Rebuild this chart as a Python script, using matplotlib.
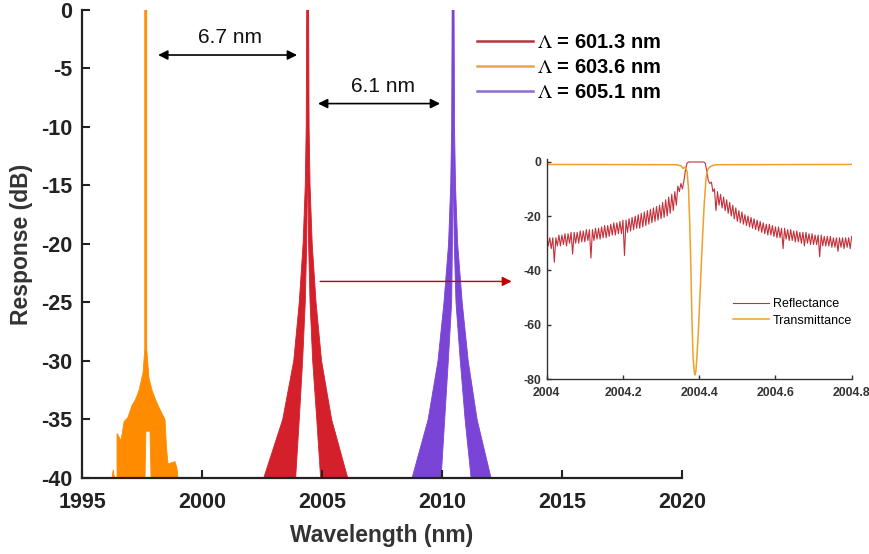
import numpy as np
import matplotlib
matplotlib.use("Agg")
import matplotlib.pyplot as plt
from matplotlib.lines import Line2D

plt.rcParams['font.family'] = ['Liberation Sans', 'DejaVu Sans']
plt.rcParams['axes.unicode_minus'] = False
plt.rcParams['mathtext.fontset'] = 'stix'

# ---------------- data ----------------
x_ticks = [1995, 2000, 2005, 2010, 2015, 2020]
y_ticks = [0, -5, -10, -15, -20, -25, -30, -35, -40]

legend_labels = [r'$\Lambda$ = 601.3 nm', r'$\Lambda$ = 603.6 nm', r'$\Lambda$ = 605.1 nm']

# red peak (Lambda = 601.3 nm): band edges as offsets (nm) from centre at given levels (dB)
red_center = 2004.4
red_db = [0, -10, -15, -20, -25, -30, -35, -40]
red_outer_l = [-0.04, -0.06, -0.10, -0.19, -0.35, -0.58, -1.04, -1.83]
red_inner_l = [0.0, 0.0, -0.01, -0.04, -0.10, -0.21, -0.35, -0.50]
red_inner_r = [0.0, 0.0, 0.01, 0.04, 0.10, 0.21, 0.38, 0.54]
red_outer_r = [0.04, 0.06, 0.10, 0.19, 0.35, 0.58, 1.00, 1.67]

# purple peak (Lambda = 605.1 nm)
purple_center = 2010.46
purple_db = [0, -10, -15, -20, -25, -30, -35, -40]
purple_outer_l = [-0.04, -0.06, -0.10, -0.19, -0.38, -0.63, -1.04, -1.71]
purple_inner_l = [0.0, 0.0, -0.01, -0.03, -0.06, -0.20, -0.35, -0.50]
purple_inner_r = [0.0, 0.0, 0.01, 0.05, 0.12, 0.30, 0.50, 0.75]
purple_outer_r = [0.04, 0.06, 0.10, 0.19, 0.38, 0.63, 1.00, 1.58]

# orange peak (Lambda = 603.6 nm): outline of the filled spectrum
orange_wl = [1997.613, 1997.613, 1997.542, 1997.375, 1997.229, 1997.083, 1996.917, 1996.75,
             1996.625, 1996.458, 1996.458, 1997.625, 1997.66, 1997.83, 1997.875, 1999.0,
             1998.958, 1998.875, 1998.583, 1998.521, 1998.458, 1998.333, 1998.167, 1998.042,
             1997.917, 1997.792, 1997.696, 1997.696]
orange_db = [0, -29, -31, -32.5, -33.3, -33.8, -34.8, -35.2,
             -36.8, -36.2, -40, -40, -36, -36, -40, -40,
             -39.2, -38.6, -38.8, -37.5, -35, -34.5, -33.8, -33.2,
             -32.5, -31.5, -29, 0]
orange_blip_wl = [1996.25, 1996.30, 1996.35]
orange_blip_db = [-40, -39.3, -40]

# inset: reflectance sampled every 0.004 nm from 2004.0 to 2004.8
refl_db = [
    -27, -31, -28, -32, -28, -37, -28, -31, -27, -31,
    -27, -30.5, -26.5, -31, -26.5, -30, -26, -34, -26, -30,
    -26, -30, -25.5, -29.5, -25.5, -29.5, -25, -29, -25, -35.5,
    -25, -29, -24.5, -28.5, -24.5, -28.5, -24, -28, -23.5, -28,
    -23.5, -27.5, -23, -27, -22.5, -27, -22.5, -26.5, -22, -26.5,
    -21.5, -34.5, -21.5, -26, -21, -25.5, -20.5, -25, -20, -24.5,
    -19.5, -24.5, -19, -24, -18.5, -23.5, -18, -23, -17.5, -22.5,
    -17, -22, -16.5, -21.5, -16, -21, -15, -20.5, -14, -20,
    -13, -19, -12, -18, -11, -16, -9, -11, -8, -10,
    -7, -3, -0.5, -0.1, -0.1, -0.1, -0.1, -0.1, -0.1, -0.1,
    -0.1, -0.1, -0.1, -0.1, -0.6, -3.5, -7, -8, -7.5, -11,
    -10, -18, -11, -16, -12, -17, -13, -18, -14, -19,
    -15, -20, -16, -21, -17, -22, -18, -22.5, -18.5, -23,
    -19.5, -23.5, -20, -24, -20.5, -24.5, -21, -25, -21.5, -25.5,
    -22, -26, -22.5, -26.5, -23, -27, -23, -27, -23.5, -27.5,
    -24, -28, -24, -28, -24.5, -32, -24.5, -28.5, -25, -29,
    -25, -29, -25.5, -29.5, -25.5, -29.5, -26, -30, -26, -31,
    -26, -30, -26.5, -30.5, -26.5, -30.5, -27, -30.5, -27, -35,
    -27, -31, -27.5, -31, -27.5, -31, -27.5, -31.5, -28, -31.5,
    -28, -33, -28, -31.5, -28, -32, -28, -31.5, -28, -32,
    -27.5]
refl_wl = np.linspace(2004.0, 2004.8, len(refl_db))

trans_wl = [2004.000, 2004.340, 2004.352, 2004.358, 2004.363, 2004.368, 2004.372, 2004.375,
            2004.378, 2004.381, 2004.384, 2004.387, 2004.389, 2004.391, 2004.394, 2004.398,
            2004.403, 2004.408, 2004.413, 2004.418, 2004.422, 2004.426, 2004.430, 2004.436,
            2004.450, 2004.800]
trans_db = [-1.0, -1.1, -1.5, -2.5, -2.0, -3.5, -10, -22,
            -38, -58, -72, -77.5, -78.5, -77.5, -72, -62,
            -46, -30, -16, -6, -3, -2.2, -1.8, -1.3,
            -1.1, -1.0]

inset_x_ticks = [2004.0, 2004.2, 2004.4, 2004.6, 2004.8]
inset_x_labels = ['2004', '2004.2', '2004.4', '2004.6', '2004.8']
inset_y_ticks = [0, -20, -40, -60, -80]

# ---------------- colours ----------------
c_red = '#D4202A'
c_orange = '#FF8C00'
c_purple = '#7A44D6'

fig = plt.figure(figsize=(8.7, 5.54), dpi=100)
ax = fig.add_axes([0.0943, 0.1372, 0.6897, 0.8448])


def draw_peak(ax, center, db, ol, il, ir, orr, color):
    db = np.asarray(db)
    xl = np.concatenate([center + np.asarray(ol), (center + np.asarray(il))[::-1]])
    yl = np.concatenate([db, db[::-1]])
    xr = np.concatenate([center + np.asarray(ir), (center + np.asarray(orr))[::-1]])
    ax.fill(xl, yl, color=color, lw=0.6, ec=color)
    ax.fill(xr, yl, color=color, lw=0.6, ec=color)


ax.fill(orange_wl, orange_db, color=c_orange, lw=0.6, ec=c_orange)
ax.fill(orange_blip_wl, orange_blip_db, color=c_orange, lw=0.6, ec=c_orange)
draw_peak(ax, red_center, red_db, red_outer_l, red_inner_l, red_inner_r, red_outer_r, c_red)
draw_peak(ax, purple_center, purple_db, purple_outer_l, purple_inner_l, purple_inner_r,
          purple_outer_r, c_purple)

ax.set_xlim(1995, 2020)
ax.set_ylim(-40, 0)
ax.set_xticks(x_ticks)
ax.set_yticks(y_ticks)
ax.set_yticklabels([str(v) for v in y_ticks])
for s in ['top', 'right']:
    ax.spines[s].set_visible(False)
for s in ['left', 'bottom']:
    ax.spines[s].set_linewidth(1.6)
    ax.spines[s].set_color('#222222')
ax.tick_params(direction='in', length=6, width=1.5, labelsize=15.5, colors='#222222')
ax.tick_params(axis='x', pad=10)
ax.tick_params(axis='y', pad=7)
for lab in ax.get_xticklabels() + ax.get_yticklabels():
    lab.set_fontweight('bold')
ax.set_xlabel('Wavelength (nm)', fontsize=16.5, fontweight='bold', color='#333333', labelpad=8)
ax.set_ylabel('Response (dB)', fontsize=16.5, fontweight='bold', color='#333333', labelpad=6)

# annotations
ax.annotate('', xy=(1998.17, -3.85), xytext=(2003.96, -3.85),
            arrowprops=dict(arrowstyle='<|-|>', color='black', lw=1.2, mutation_scale=14,
                            shrinkA=0, shrinkB=0))
ax.text(2001.17, -2.35, '6.7 nm', fontsize=15, ha='center', va='center', color='#111111')
ax.annotate('', xy=(2004.83, -8.0), xytext=(2009.92, -8.0),
            arrowprops=dict(arrowstyle='<|-|>', color='black', lw=1.2, mutation_scale=14,
                            shrinkA=0, shrinkB=0))
ax.text(2007.54, -6.5, '6.1 nm', fontsize=15, ha='center', va='center', color='#111111')
ax.annotate('', xy=(2012.9, -23.2), xytext=(2004.92, -23.2),
            arrowprops=dict(arrowstyle='-|>', color='#C00000', lw=1.0, mutation_scale=14,
                            shrinkA=0, shrinkB=0))

handles = [Line2D([], [], color='#B8343C', lw=1.8),
           Line2D([], [], color='#EBA548', lw=1.8),
           Line2D([], [], color='#8A6CD4', lw=1.8)]
leg = ax.legend(handles, legend_labels, loc='upper left', bbox_to_anchor=(477 / 870, 1 - 33 / 554),
                bbox_transform=fig.transFigure, frameon=False, handlelength=2.8,
                handletextpad=0.2, labelspacing=0.3, borderpad=0, borderaxespad=0,
                prop=dict(size=14.5, weight='bold'))

# ---------------- inset ----------------
ins = fig.add_axes([546.7 / 870, (554 - 379) / 554, 305 / 870, 220 / 554])
ins.plot(refl_wl, refl_db, color='#C4303A', lw=0.8, label='Reflectance')
ins.plot(trans_wl, trans_db, color='#F0A028', lw=1.1, label='Transmittance')
ins.set_xlim(2004.0, 2004.8)
ins.set_ylim(-80, 1)
ins.set_xticks(inset_x_ticks)
ins.set_xticklabels(inset_x_labels)
ins.set_yticks(inset_y_ticks)
ins.set_yticklabels([str(v) for v in inset_y_ticks])
for s in ['top', 'right']:
    ins.spines[s].set_visible(False)
for s in ['left', 'bottom']:
    ins.spines[s].set_linewidth(1.0)
    ins.spines[s].set_color('#333333')
ins.tick_params(direction='in', length=3, width=1.0, labelsize=8.8, colors='#333333')
ins.tick_params(axis='x', pad=6)
ins.tick_params(axis='y', pad=4)
for lab in ins.get_xticklabels() + ins.get_yticklabels():
    lab.set_fontweight('bold')
ins.legend(loc='upper left', bbox_to_anchor=(0.59, 0.395), frameon=False, fontsize=9,
           handlelength=2.9, handletextpad=0.3, labelspacing=0.35, borderpad=0)

fig.savefig('out.png', dpi=100)
